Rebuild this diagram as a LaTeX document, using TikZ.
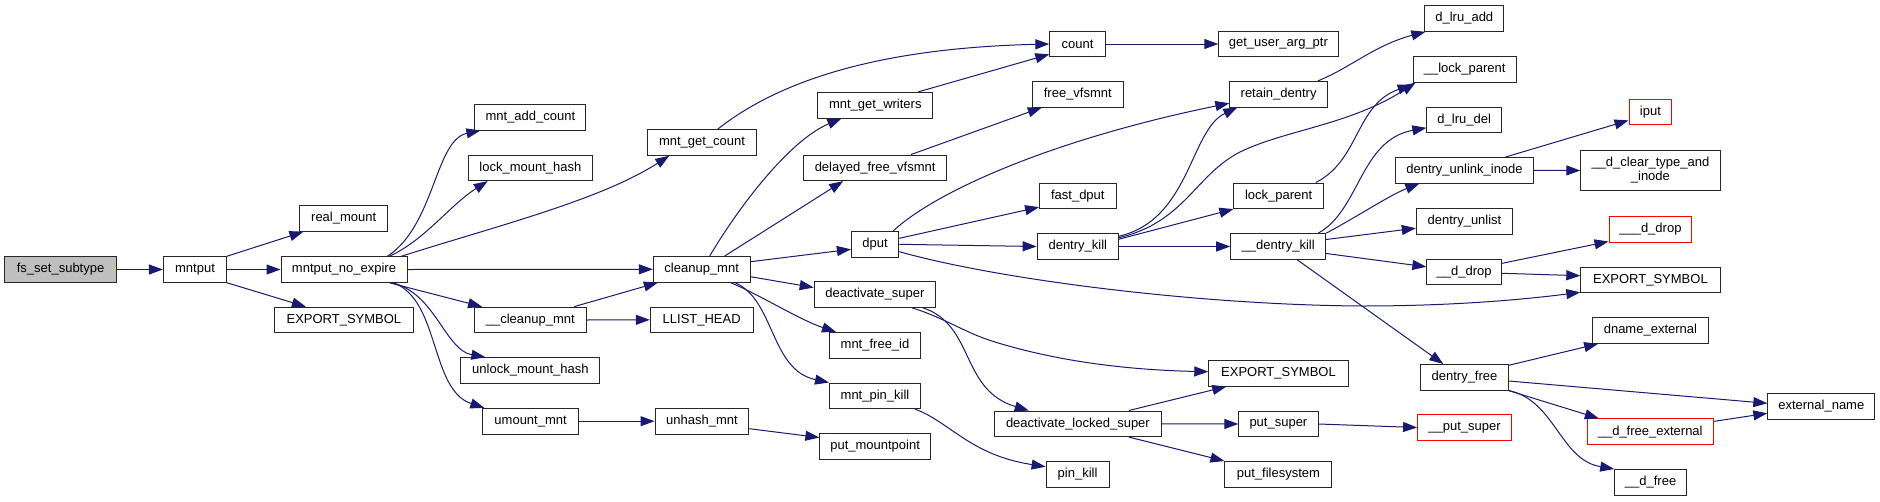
\documentclass[tikz,border=0pt]{standalone}
\usepackage{fontspec}
\setmainfont{Liberation Sans}
\usetikzlibrary{arrows.meta,calc}
\definecolor{edgeblue}{HTML}{191970}
\begin{document}
\begin{tikzpicture}[x=1pt,y=-1pt,
  box/.style={draw=black!85, line width=1pt, fill=white, minimum height=25.6pt, inner sep=0pt, font=\fontsize{13}{14}\selectfont, text=black, align=center},
  redbox/.style={box, draw=red},
  edge/.style={draw=edgeblue, line width=1pt, -{Triangle[length=14pt,width=10pt]}}]
\useasboundingbox (0,0) rectangle (1880,501);
% nodes
\node[box,fill=black!25,minimum width=111.4pt] (fsset) at (60.6,269.5) {fs\_set\_subtype};
\node[box,minimum width=63.2pt] (mntput) at (195,269.5) {mntput};
\node[box,minimum width=87.5pt] (realmount) at (343.7,218.4) {real\_mount};
\node[box,minimum width=126pt] (mne) at (344,269.5) {mntput\_no\_expire};
\node[box,minimum width=139pt] (expA) at (343.9,320) {EXPORT\_SYMBOL};
\node[box,minimum width=111pt] (addcount) at (530.4,117.2) {mnt\_add\_count};
\node[box,minimum width=124.3pt] (lockhash) at (530.4,167.8) {lock\_mount\_hash};
\node[box,minimum width=111.4pt] (ucleanup) at (530.3,320) {\_\_cleanup\_mnt};
\node[box,minimum width=139pt] (unlockhash) at (530.4,370.5) {unlock\_mount\_hash};
\node[box,minimum width=95.5pt] (umount) at (530.6,421.2) {umount\_mnt};
\node[box,minimum width=108.5pt] (getcount) at (702,142.5) {mnt\_get\_count};
\node[box,minimum width=96.7pt] (cleanup) at (701.7,269.3) {cleanup\_mnt};
\node[box,minimum width=102.8pt] (llist) at (701.7,319.8) {LLIST\_HEAD};
\node[box,minimum width=93.7pt] (unhash) at (701.9,421.2) {unhash\_mnt};
\node[box,minimum width=114.7pt] (getwriters) at (875.3,105.2) {mnt\_get\_writers};
\node[box,minimum width=142.8pt] (delayedfree) at (875.1,167.8) {delayed\_free\_vfsmnt};
\node[box,minimum width=47.4pt] (dput) at (875.1,244.3) {dput};
\node[box,minimum width=121.4pt] (deactsuper) at (874.9,294.5) {deactivate\_super};
\node[box,minimum width=91pt] (freeid) at (875,345.2) {mnt\_free\_id};
\node[box,minimum width=91pt] (pinkillm) at (875,395.8) {mnt\_pin\_kill};
\node[box,minimum width=110.5pt] (putmp) at (875.1,446.5) {put\_mountpoint};
\node[box,minimum width=55.5pt] (count) at (1077.6,44) {count};
\node[box,minimum width=91pt] (freevfs) at (1077.8,94.2) {free\_vfsmnt};
\node[box,minimum width=76.4pt] (fastdput) at (1077.8,195.8) {fast\_dput};
\node[box,minimum width=81.3pt] (dkill) at (1077.8,246.5) {dentry\_kill};
\node[box,minimum width=167.4pt] (deactlocked) at (1077.9,423.8) {deactivate\_locked\_super};
\node[box,minimum width=63pt] (pinkill) at (1077.6,474.5) {pin\_kill};
\node[box,minimum width=119.2pt] (getuser) at (1278.4,44) {get\_user\_arg\_ptr};
\node[box,minimum width=97.5pt] (retain) at (1278.6,94.2) {retain\_dentry};
\node[box,minimum width=89.4pt] (lockparent) at (1278.6,195.8) {lock\_parent};
\node[box,minimum width=95pt] (udkill) at (1278.2,246.5) {\_\_dentry\_kill};
\node[box,minimum width=139.4pt] (expC) at (1278.5,373.3) {EXPORT\_SYMBOL};
\node[box,minimum width=79.2pt] (putsuper) at (1278.4,424) {put\_super};
\node[box,minimum width=106.9pt] (putfs) at (1278.4,474.3) {put\_filesystem};
\node[box,minimum width=78.8pt] (lruadd) at (1464.3,18.5) {d\_lru\_add};
\node[box,minimum width=103.2pt] (ulockparent) at (1464.7,69.3) {\_\_lock\_parent};
\node[box,minimum width=74.7pt] (lrudel) at (1464.2,119.8) {d\_lru\_del};
\node[box,minimum width=137.2pt] (unlinkinode) at (1464.5,170.3) {dentry\_unlink\_inode};
\node[box,minimum width=96.4pt] (unlist) at (1464.5,221.2) {dentry\_unlist};
\node[box,minimum width=74.7pt] (uddrop) at (1464.2,271.8) {\_\_d\_drop};
\node[box,minimum width=87.4pt] (dfree) at (1464.5,377.3) {dentry\_free};
\node[redbox,minimum width=93.8pt] (uputsuper) at (1464.5,427.5) {\_\_put\_super};
\node[redbox,minimum width=42.8pt] (iput) at (1650.4,111.8) {iput};
\node[box,minimum width=139.2pt,minimum height=40.3pt] (clear) at (1650.4,170.5) {\_\_d\_clear\_type\_and\\\_inode};
\node[redbox,minimum width=82.8pt] (uuddrop) at (1650.4,229.2) {\_\_\_d\_drop};
\node[box,minimum width=139.2pt] (expB) at (1650.4,280) {EXPORT\_SYMBOL};
\node[box,minimum width=115.5pt] (dnameext) at (1650.4,330.5) {dname\_external};
\node[redbox,minimum width=125.8pt] (udfreeext) at (1650.2,431.7) {\_\_d\_free\_external};
\node[box,minimum width=71.8pt] (udfree) at (1650.6,482.2) {\_\_d\_free};
\node[box,minimum width=107pt] (extname) at (1821.3,406.5) {external\_name};
% edges
\draw[edge] (fsset.east) -- (mntput.west);
\draw[edge] (mntput.north east) -- ($(realmount.south west)+(4,0)$);
\draw[edge] (mntput.east) -- (mne.west);
\draw[edge] (mntput.south east) -- ($(expA.north west)+(32,0)$);
\draw[edge] ($(mne.north west)+(107,0)$) .. controls (435,225) and (435,140) .. ($(addcount.south west)+(6,0)$);
\draw[edge] ($(mne.north west)+(109,0)$) .. controls (425,240) and (450,205) .. ($(lockhash.south west)+(20,0)$);
\draw[edge] ($(mne.north west)+(121,0)$) .. controls (500,225) and (600,200) .. ($(getcount.south west)+(22,0)$);
\draw[edge] (mne.east) -- (cleanup.west);
\draw[edge] ($(mne.south west)+(109,0)$) -- ($(ucleanup.north west)+(8,0)$);
\draw[edge] ($(mne.south west)+(111,0)$) .. controls (435,292) and (445,350) .. ($(unlockhash.north west)+(25,0)$);
\draw[edge] ($(mne.south west)+(113,0)$) .. controls (440,300) and (430,390) .. ($(umount.north west)+(2,0)$);
\draw[edge] ($(ucleanup.north east)+(-12.5,0)$) -- ($(cleanup.south west)+(5,0)$);
\draw[edge] (ucleanup.east) -- (llist.west);
\draw[edge] (umount.east) -- (unhash.west);
\draw[edge] ($(unhash.east)+(0,7.5)$) -- ($(putmp.west)+(0,-9)$);
\draw[edge] ($(getcount.north)+(15.6,0)$) .. controls (780,80) and (880,48) .. (count.west);
\draw[edge] ($(cleanup.north)+(8,0)$) .. controls (740,205) and (790,140) .. ($(getwriters.south west)+(24,0)$);
\draw[edge] ($(cleanup.north)+(23,0)$) -- ($(delayedfree.south west)+(40,0)$);
\draw[edge] ($(cleanup.east)+(0,-7.6)$) -- ($(dput.west)+(0,5)$);
\draw[edge] ($(cleanup.east)+(0,7.4)$) -- ($(deactsuper.west)+(0,-7)$);
\draw[edge] ($(cleanup.south east)+(-20,0)$) .. controls (760,295) and (800,320) .. ($(freeid.north west)+(7,0)$);
\draw[edge] ($(cleanup.south east)+(-15.6,0)$) .. controls (775,300) and (770,370) .. (pinkillm.north west);
\draw[edge] ($(getwriters.north east)+(-15,0)$) -- ($(count.south west)+(0,-3)$);
\draw[edge] ($(delayedfree.north)+(36,0)$) -- ($(freevfs.south west)+(10,0)$);
\draw[edge] ($(dput.north)+(18,0)$) .. controls (935,192) and (1050,140) .. ($(retain.west)+(0,9)$);
\draw[edge] ($(dput.east)+(0,-6)$) -- ($(fastdput.south west)+(0,-2)$);
\draw[edge] (dput.east) -- (dkill.west);
\draw[edge] ($(dput.east)+(0,7.4)$) .. controls (1000,280) and (1200,305) .. (1362,306) .. controls (1450,306) and (1520,300) .. ($(expB.south west)+(0,-1)$);
\draw[edge] ($(dkill.north east)+(0,3)$) .. controls (1190,220) and (1190,130) .. ($(retain.south west)+(8,0)$);
\draw[edge] ($(dkill.north east)+(0,4.5)$) .. controls (1185,222) and (1195,175) .. (1240,152) .. controls (1285,130) and (1350,125) .. ($(ulockparent.south west)+(3,0)$);
\draw[edge] ($(dkill.north east)+(0,6)$) -- (lockparent.south west);
\draw[edge] (dkill.east) -- (udkill.west);
\draw[edge] ($(retain.north east)+(-10,0)$) .. controls (1350,68) and (1375,45) .. ($(lruadd.south west)+(1,0)$);
\draw[edge] ($(lockparent.north east)+(-8,0)$) .. controls (1360,160) and (1355,105) .. ($(ulockparent.south west)+(-1,2)$);
\draw[edge] ($(udkill.north east)+(-8,0)$) .. controls (1360,210) and (1360,140) .. ($(lrudel.west)+(0,8)$);
\draw[edge] (udkill.north east) .. controls (1360,215) and (1390,195) .. ($(unlinkinode.south west)+(24,0)$);
\draw[edge] ($(udkill.east)+(0,-7)$) -- ($(unlist.west)+(0,7)$);
\draw[edge] ($(udkill.east)+(0,7)$) -- ($(uddrop.west)+(0,-5)$);
\draw[edge] ($(udkill.south)+(19,0)$) -- ($(dfree.north west)+(23,0)$);
\draw[edge] ($(unlinkinode.north east)+(-28,0)$) -- ($(iput.south west)+(0,-4.7)$);
\draw[edge] (unlinkinode.east) -- (clear.west);
\draw[edge] ($(uddrop.east)+(0,-8.5)$) -- ($(uuddrop.south west)+(0,-1)$);
\draw[edge] ($(uddrop.east)+(0,1.5)$) -- ($(expB.west)+(0,-4.3)$);
\draw[edge] ($(deactsuper.south)+(37,0)$) .. controls (945,318) and (965,333) .. (995,342) .. controls (1060,362) and (1130,370) .. ($(expC.west)+(0,-1.6)$);
\draw[edge] ($(deactsuper.south)+(48,0)$) .. controls (975,325) and (960,390) .. ($(deactlocked.north west)+(35,0)$);
\draw[edge] ($(pinkillm.south east)+(-6,0)$) .. controls (950,422) and (970,455) .. ($(pinkill.west)+(0,-7.8)$);
\draw[edge] ($(deactlocked.north)+(51,0)$) -- ($(expC.south west)+(18,0)$);
\draw[edge] (deactlocked.east) -- (putsuper.west);
\draw[edge] ($(deactlocked.south)+(51,0)$) -- (putfs.north west);
\draw[edge] (putsuper.east) -- (uputsuper.west);
\draw[edge] ($(dfree.north east)+(0,1.3)$) -- ($(dnameext.south west)+(6,0)$);
\draw[edge] ($(dfree.east)+(0,3.7)$) -- ($(extname.west)+(0,-3.2)$);
\draw[edge] (dfree.south east) -- ($(udfreeext.north west)+(12,0)$);
\draw[edge] (dfree.south east) .. controls (1555,400) and (1560,460) .. (udfree.north west);
\draw[edge] ($(udfreeext.north east)+(0,3)$) -- ($(extname.west)+(0,6.8)$);
\draw[edge] (count.east) -- (getuser.west);
\end{tikzpicture}
\end{document}
